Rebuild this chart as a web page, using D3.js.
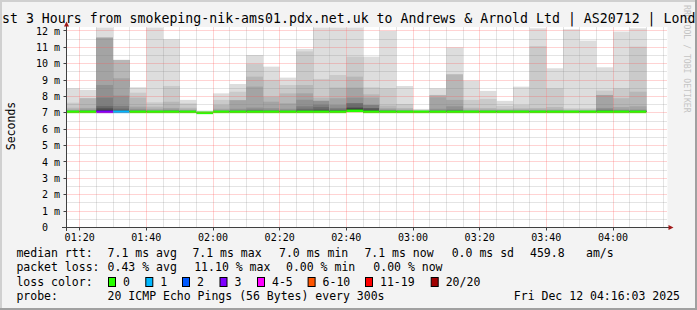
<!DOCTYPE html>
<html>
<head>
<meta charset="utf-8">
<script src="https://d3js.org/d3.v7.min.js"></script>
<style>
body { margin:0; background:#f3f3f3; }
svg text { font-family: "DejaVu Sans Mono", monospace; fill:#000; white-space: pre; }
</style>
</head>
<body>
<script>
// end time of each 5 minute step
var times = ["01:20","01:25","01:30","01:35","01:40","01:45","01:50","01:55","02:00","02:05",
             "02:10","02:15","02:20","02:25","02:30","02:35","02:40","02:45","02:50","02:55",
             "03:00","03:05","03:10","03:15","03:20","03:25","03:30","03:35","03:40","03:45",
             "03:50","03:55","04:00","04:05","04:10"];

// upper half of the 20 sorted pings per step (ping20 .. ping11), ms
var smoke = [
  [8.50, 7.62, 7.31, 7.20, 7.15, 7.12, 7.10, 7.10, 7.10, 7.10],
  [8.40, 7.89, 7.89, 7.30, 7.20, 7.15, 7.12, 7.10, 7.10, 7.10],
  [12.40, 11.59, 11.59, 11.59, 8.70, 7.93, 7.42, 7.30, 7.20, 7.15],
  [10.23, 10.23, 10.23, 9.11, 8.05, 7.42, 7.26, 7.15, 7.12, 7.10],
  [8.56, 8.23, 7.93, 7.38, 7.25, 7.15, 7.12, 7.10, 7.10, 7.10],
  [12.40, 7.64, 7.38, 7.25, 7.15, 7.12, 7.10, 7.10, 7.10, 7.10],
  [11.49, 8.64, 7.68, 7.30, 7.20, 7.15, 7.12, 7.10, 7.10, 7.10],
  [7.79, 7.58, 7.31, 7.20, 7.15, 7.12, 7.10, 7.10, 7.10, 7.10],
  [7.14, 7.08, 7.06, 7.05, 7.04, 7.03, 7.02, 7.02, 7.02, 7.02],
  [8.19, 7.79, 7.48, 7.25, 7.15, 7.12, 7.10, 7.10, 7.10, 7.10],
  [8.76, 8.29, 7.77, 7.77, 7.25, 7.15, 7.12, 7.10, 7.10, 7.10],
  [10.53, 9.98, 9.21, 8.60, 7.32, 7.20, 7.15, 7.12, 7.10, 7.10],
  [9.82, 9.01, 7.99, 7.68, 7.28, 7.18, 7.12, 7.10, 7.10, 7.10],
  [9.15, 8.70, 8.19, 7.58, 7.25, 7.15, 7.12, 7.10, 7.10, 7.10],
  [10.90, 10.75, 8.70, 8.19, 7.80, 7.40, 7.25, 7.15, 7.12, 7.10],
  [12.40, 9.07, 7.93, 7.73, 7.73, 7.50, 7.35, 7.20, 7.15, 7.10],
  [12.40, 9.31, 8.54, 7.89, 7.48, 7.30, 7.20, 7.15, 7.12, 7.10],
  [12.40, 10.43, 9.21, 8.54, 7.93, 7.58, 7.58, 7.31, 7.31, 7.20],
  [10.43, 8.56, 8.13, 7.93, 7.48, 7.48, 7.28, 7.28, 7.15, 7.12],
  [12.00, 8.50, 7.44, 7.28, 7.20, 7.15, 7.12, 7.10, 7.10, 7.10],
  [8.64, 7.54, 7.30, 7.20, 7.15, 7.12, 7.10, 7.10, 7.10, 7.10],
  [7.24, 7.18, 7.15, 7.12, 7.10, 7.10, 7.10, 7.10, 7.10, 7.10],
  [8.50, 8.09, 8.09, 7.95, 7.25, 7.15, 7.12, 7.10, 7.10, 7.10],
  [11.00, 9.35, 9.35, 7.79, 7.40, 7.20, 7.15, 7.12, 7.10, 7.10],
  [8.97, 7.79, 7.31, 7.20, 7.15, 7.12, 7.10, 7.10, 7.10, 7.10],
  [8.34, 7.85, 7.30, 7.20, 7.15, 7.12, 7.10, 7.10, 7.10, 7.10],
  [7.73, 7.42, 7.25, 7.18, 7.15, 7.12, 7.10, 7.10, 7.10, 7.10],
  [8.60, 7.48, 7.28, 7.20, 7.15, 7.12, 7.10, 7.10, 7.10, 7.10],
  [12.16, 11.08, 7.30, 7.20, 7.15, 7.12, 7.10, 7.10, 7.10, 7.10],
  [9.72, 8.50, 7.35, 7.20, 7.15, 7.12, 7.10, 7.10, 7.10, 7.10],
  [12.10, 7.28, 7.20, 7.15, 7.12, 7.10, 7.10, 7.10, 7.10, 7.10],
  [11.41, 7.28, 7.20, 7.15, 7.12, 7.10, 7.10, 7.10, 7.10, 7.10],
  [9.78, 8.36, 8.09, 8.09, 7.30, 7.20, 7.15, 7.12, 7.10, 7.10],
  [11.96, 8.50, 7.89, 7.35, 7.20, 7.15, 7.12, 7.10, 7.10, 7.10],
  [12.16, 11.04, 8.29, 7.40, 7.20, 7.15, 7.12, 7.10, 7.10, 7.10]
];

var median = [7.06,7.06,7.06,7.06,7.06,7.06,7.06,7.06,7.00,7.06,
              7.06,7.06,7.06,7.06,7.06,7.06,7.06,7.12,7.06,7.06,
              7.06,7.06,7.06,7.06,7.06,7.06,7.06,7.06,7.06,7.06,
              7.06,7.06,7.06,7.06,7.06];

// lost pings out of 20 per step
var lossCount = [0,0,3,1,0,0,0,0,0,0, 0,0,0,0,0,0,0,0,0,0, 0,0,0,0,0,0,0,0,0,0, 0,0,0,0,0];

var lossLabels = ["0","1","2","3","4-5","6-10","11-19","20/20"];
var lossColors = ["#26ff00","#00b8ff","#0059ff","#7e00ff","#ff00ff","#ff5500","#ff0000","#a00000"];
var lossUpper  = [0,1,2,3,5,10,19,20];

var yLabels = ["0","1 m","2 m","3 m","4 m","5 m","6 m","7 m","8 m","9 m","10 m","11 m","12 m"];

var statRows = [
  {label:"median rtt:", items:[["7.1 ms avg",107.6],["7.1 ms max",192.4],["7.0 ms min",279],["7.1 ms now",364.4],["0.0 ms sd",451.7],["459.8",530],["am/s",586]]},
  {label:"packet loss:", items:[["0.43 % avg",107.6],["11.10 % max",194.2],["0.00 % min",286],["0.00 % now",373.3]]}
];
var legendX = [108,145.3,182,219.5,257,307.6,365,430.7];

var W = 697, H = 310;
var svg = d3.select("body").append("svg").attr("width",W).attr("height",H);

svg.append("rect").attr("width",W).attr("height",H).attr("fill","#f3f3f3");

var t0 = new Date(2025,11,12,1,16,3), t1 = new Date(2025,11,12,4,16,3);
var x = d3.scaleTime().domain([t0,t1]).range([66.5,666.5]);
var y = d3.scaleLinear().domain([0,12.21]).range([227.5,27.5]);
var parse = d3.timeParse("%H:%M");
function at(hm){ var t = parse(hm); return new Date(2025,11,12,t.getHours(),t.getMinutes()); }
function yc(v){ return y(Math.min(v, y.domain()[1])); }
function px(v){ return Math.floor(v)+0.5; }

svg.append("rect").attr("x",66.5).attr("y",27).attr("width",601).attr("height",201).attr("fill","#ffffff");

// smoke
var cols = svg.append("g").selectAll("g").data(times).join("g");
cols.each(function(t,c){
  var end = at(t), start = new Date(Math.max(+end - 300000, +t0));
  var x0 = x(start), x1 = x(end);
  d3.select(this).selectAll("rect").data(smoke[c]).join("rect")
    .attr("x",x0).attr("width",x1-x0)
    .attr("y",function(d){return yc(d);})
    .attr("height",function(d){return Math.max(0, y(median[c]) - yc(d));})
    .attr("fill",function(d,i){
      var g = Math.floor(190/10*(10-(i+1)))+50;
      return d3.rgb(g,g,g);
    });
  var li = lossUpper.findIndex(function(u){return lossCount[c] <= u;});
  d3.select(this).append("rect")
    .attr("x",x0).attr("width",x1-x0)
    .attr("y",y(median[c])-1.3).attr("height",2.6)
    .attr("fill",lossColors[li]);
});

// grid on top
var grid = svg.append("g").attr("stroke-dasharray","1,1").attr("stroke-width",1);
var minorT = d3.timeMinute.every(5).range(t0,t1);
grid.selectAll(".vx").data(minorT).join("line")
  .attr("x1",function(d){return px(x(d));}).attr("x2",function(d){return px(x(d));})
  .attr("y1",27.5).attr("y2",227.5)
  .attr("stroke",function(d){return d.getMinutes()%20==0 ? "rgba(255,80,80,0.5)" : "rgba(120,120,120,0.4)";});
var hv = d3.range(1,25).map(function(d){return d/2;});
grid.selectAll(".hy").data(hv).join("line")
  .attr("x1",66.5).attr("x2",667)
  .attr("y1",function(d){return px(y(d));}).attr("y2",function(d){return px(y(d));})
  .attr("stroke",function(d){return d%1==0 ? "rgba(255,80,80,0.5)" : "rgba(120,120,120,0.4)";});

// axes
var ax = svg.append("g").attr("stroke","#404040").attr("stroke-width",1);
ax.append("line").attr("x1",62).attr("x2",669).attr("y1",227.5).attr("y2",227.5);
ax.append("line").attr("x1",66.5).attr("x2",66.5).attr("y1",231).attr("y2",25);
var majorT = d3.timeMinute.every(20).range(t0,t1);
ax.selectAll(".tx").data(majorT).join("line")
  .attr("x1",function(d){return px(x(d));}).attr("x2",function(d){return px(x(d));})
  .attr("y1",227.5).attr("y2",230.5);
ax.selectAll(".ty").data(d3.range(1,13)).join("line")
  .attr("x1",63.5).attr("x2",66.5)
  .attr("y1",function(d){return px(y(d));}).attr("y2",function(d){return px(y(d));});
svg.append("path").attr("d","M668.5,225L673.5,227.5L668.5,230Z").attr("fill","#a01818");
svg.append("path").attr("d","M64,26.5L66.5,21.5L69,26.5Z").attr("fill","#a01818");

// axis labels
svg.selectAll(".xl").data(majorT).join("text")
  .attr("x",function(d){return x(d);}).attr("y",240.5)
  .attr("text-anchor","middle").attr("font-size","10px")
  .text(d3.timeFormat("%H:%M"));
svg.selectAll(".yl").data(yLabels).join("text")
  .attr("x",function(d,i){return i==0 ? 48 : 60;})
  .attr("y",function(d,i){return y(i)+3.6;})
  .attr("text-anchor","end").attr("font-size","10px")
  .text(function(d){return d;});

svg.append("text").attr("transform","translate(15,126) rotate(-90)")
  .attr("text-anchor","middle").attr("font-size","11.5px").text("Seconds");

svg.append("text").attr("transform","translate(683.5,5) rotate(90)")
  .attr("font-size","8.15px").style("fill","#c4c4c4").text("RRDTOOL / TOBI OETIKER");

var title = "Last 3 Hours from smokeping-nik-ams01.pdx.net.uk to Andrews & Arnold Ltd | AS20712 | London";
svg.append("text").attr("x",348.7).attr("y",23).attr("text-anchor","middle").attr("font-size","13.2px")
  .attr("textLength", title.length*7.97).attr("lengthAdjust","spacing")
  .text(title);

// legend
var leg = svg.append("g").attr("font-size","11.5px");
statRows.forEach(function(r,ri){
  var by = 257 + ri*14.3;
  leg.append("text").attr("x",16.4).attr("y",by).text(r.label);
  r.items.forEach(function(it){
    leg.append("text").attr("x",it[1]).attr("y",by).text(it[0]);
  });
});
leg.append("text").attr("x",16.4).attr("y",285.6).text("loss color:");
lossLabels.forEach(function(l,i){
  leg.append("rect").attr("x",legendX[i]+0.5).attr("y",277.5).attr("width",7).attr("height",9)
    .attr("fill",lossColors[i]).attr("stroke","#000").attr("stroke-width",1);
  leg.append("text").attr("x",legendX[i]+15).attr("y",285.6).text(l);
});
leg.append("text").attr("x",16.4).attr("y",300).text("probe:");
leg.append("text").attr("x",107.6).attr("y",300).text("20 ICMP Echo Pings (56 Bytes) every 300s");
leg.append("text").attr("x",680).attr("y",300).attr("text-anchor","end").text("Fri Dec 12 04:16:03 2025");

// frame drawn last, over the clipped title ends
svg.append("rect").attr("width",W).attr("height",2).attr("fill","#d0d0d0");
svg.append("rect").attr("width",2).attr("height",H).attr("fill","#d0d0d0");
svg.append("rect").attr("y",H-2).attr("width",W).attr("height",2).attr("fill","#a0a0a0");
svg.append("rect").attr("x",W-2).attr("width",2).attr("height",H).attr("fill","#a0a0a0");
</script>
</body>
</html>
